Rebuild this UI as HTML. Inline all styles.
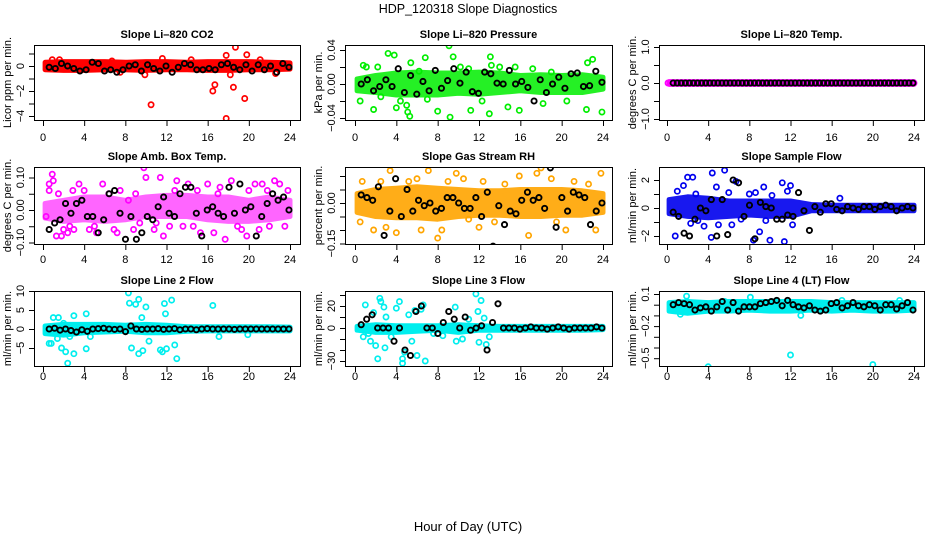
<!DOCTYPE html>
<html><head><meta charset="utf-8"><style>
html,body{margin:0;padding:0;background:#fff;}
svg{display:block;font-family:"Liberation Sans",Arial,sans-serif;}
</style></head><body>
<svg id="chart" width="936" height="540" viewBox="0 0 936 540" xmlns="http://www.w3.org/2000/svg">
<text x="468" y="13" text-anchor="middle" font-size="12.5">HDP_120318  Slope Diagnostics</text>
<text x="468" y="531" text-anchor="middle" font-size="13">Hour of Day (UTC)</text>
</svg>
<script>
const hourTicks = [0,4,8,12,16,20,24];
const bandHours = [0,2,4,6,8,10,12,14,16,18,20,22,24];

// Panel 1: CO2
const co2BandLo = [-0.3,-0.35,-0.35,-0.3,-0.3,-0.35,-0.3,-0.3,-0.35,-0.35,-0.3,-0.3,-0.25];
const co2BandHi = [0.3,0.35,0.35,0.35,0.3,0.35,0.35,0.3,0.35,0.35,0.35,0.3,0.25];
const co2Points = [[10.5,-3.1],[16.5,-2.0],[16.7,-1.5],[17.8,-4.2],[18.5,-1.7],[19.6,-2.6],[18.7,1.5],[19.8,0.9],[17.8,0.85],[9.9,-0.7],[22.6,-0.6],[1.6,0.5],[11.6,0.6],[0.9,0.5],[6.7,0.4],[14.4,0.5],[18.2,-0.7],[7.5,-0.5],[21.1,0.5]];
const co2Black = [-0.1,-0.2,0.2,0,-0.2,-0.4,-0.3,0.3,0.2,-0.4,-0.3,-0.5,-0.3,0,0.1,-0.4,0.1,-0.2,-0.4,0,-0.5,-0.1,0.2,0.1,-0.3,-0.3,-0.2,-0.3,0.1,0.2,-0.1,-0.3,0.1,-0.4,0.1,-0.3,0,-0.5,0.2,-0.1];

// Panel 2: Pressure
const presBandLo = [-0.008,-0.01,-0.013,-0.013,-0.013,-0.011,-0.012,-0.01,-0.008,-0.01,-0.01,-0.01,-0.006];
const presBandHi = [0.006,0.01,0.013,0.014,0.013,0.013,0.014,0.013,0.01,0.011,0.01,0.011,0.008];
const presPoints = [[0.5,-0.02],[0.8,0.022],[1.8,-0.03],[2.2,0.02],[3.2,0.036],[3.8,0.034],[4,-0.028],[5,-0.025],[5.1,-0.033],[5.3,-0.038],[5.4,0.025],[6.8,0.031],[7,-0.018],[8,-0.032],[9.1,0.045],[9.2,-0.039],[9.5,0.032],[10.2,0.02],[11.2,-0.031],[13,-0.035],[13.1,0.032],[13.2,0.022],[14.8,-0.027],[15.5,0.02],[15.9,-0.031],[17.2,0.018],[18.2,-0.023],[22.4,-0.03],[22.5,0.025],[23,0.029],[23.9,-0.033],[2.5,-0.015],[6.2,0.015],[11,0.018],[19,0.014],[20.5,-0.02],[1.1,0.02],[4.4,-0.02],[12.3,-0.02],[14,0.02]];
const presBlack = [0,0.005,-0.008,-0.003,0.005,-0.003,0.018,-0.01,0.01,-0.012,0.003,-0.008,0.016,-0.005,0.004,0.018,0.001,0.014,-0.009,-0.011,0.014,0.012,0.001,0.0,0.016,0,0.003,-0.004,-0.02,0.005,-0.01,0.0,0.008,-0.005,0.012,0.013,-0.003,-0.002,0.015,0.002];

// Panel 3: Li-820 temp
const tempBandLo = [-0.04,-0.04,-0.04,-0.04,-0.04,-0.04,-0.04,-0.04,-0.04,-0.04,-0.04,-0.04,-0.04];
const tempBandHi = [0.04,0.04,0.04,0.04,0.04,0.04,0.04,0.04,0.04,0.04,0.04,0.04,0.04];
const tempPoints = [[0.1,0],[0.3,0],[24,0]];
const tempBlack = [0,0,0,0,0,0,0,0,0,0,0,0,0,0,0,0,0,0,0,0,0,0,0,0,0,0,0,0,0,0,0,0,0,0,0,0,0,0,0,0,0,0,0,0,0,0,0,0,0,0,0,0,0,0,0,0,0,0,0,0];

// Panel 4: Amb box temp
const ambBandLo = [-0.025,-0.035,-0.03,-0.035,-0.03,-0.02,-0.02,-0.02,-0.03,-0.035,-0.035,-0.03,-0.02];
const ambBandHi = [0.02,0.03,0.04,0.04,0.03,0.04,0.045,0.045,0.04,0.04,0.03,0.04,0.03];
const ambPoints = [[0.6,0.08],[0.9,0.11],[1.0,0.09],[0.6,0.06],[1.3,-0.08],[1.8,-0.08],[2.0,-0.06],[2.4,-0.07],[2.6,-0.05],[3.5,0.08],[4.5,-0.06],[5.8,0.08],[6.9,-0.06],[7.2,-0.07],[8.8,-0.06],[9.4,-0.04],[9.8,0.13],[10.0,0.1],[11.4,0.1],[11.7,-0.08],[13.0,0.09],[14.1,0.08],[15.3,-0.07],[16.6,-0.07],[17.2,0.07],[17.7,-0.09],[18.3,0.09],[19.8,-0.08],[20.0,0.06],[20.6,0.08],[21.3,0.08],[22.0,-0.05],[22.5,0.09],[23.0,0.08],[23.5,-0.05],[0.3,-0.02],[2.9,0.06],[5.2,-0.07],[8.3,0.03],[12.3,-0.05],[15.0,0.06],[18.9,-0.05],[21.0,-0.06],[23.8,0.06],[3.0,-0.06],[6.4,0.05],[10.8,-0.06],[16.0,0.08],[1.5,0.05],[4.0,0.06],[7.5,0.06],[9.0,0.05],[12.8,0.06],[14.6,-0.05],[17.0,0.05],[19.3,-0.06],[21.8,0.06],[5.0,-0.05],[11.0,-0.04],[13.6,-0.05]];
const ambBlack = [-0.06,-0.04,-0.03,0.02,-0.01,0.02,0.03,-0.02,-0.02,-0.07,-0.03,0.05,0.06,-0.01,-0.09,-0.02,-0.09,-0.07,-0.02,-0.03,0.01,0.04,-0.01,-0.02,0.05,0.07,0.07,-0.01,-0.08,0,0.01,-0.01,-0.02,0.07,-0.01,0.08,0,0.01,-0.08,-0.02,0.02,0.05,0.03,0.04,0.0];

// Panel 5: Gas stream RH
const rhBandLo = [-0.035,-0.05,-0.055,-0.055,-0.06,-0.05,-0.045,-0.045,-0.05,-0.05,-0.045,-0.045,-0.035];
const rhBandHi = [0.035,0.05,0.055,0.06,0.055,0.05,0.045,0.045,0.05,0.05,0.05,0.045,0.035];
const rhPoints = [[0.5,-0.07],[0.7,0.08],[1.8,-0.1],[2.5,0.08],[3.4,0.12],[4,-0.11],[5.2,0.08],[6.4,-0.1],[7.1,0.12],[8.0,-0.13],[8.4,-0.1],[9,0.08],[9.8,0.11],[11,-0.06],[12.4,0.08],[13.5,-0.07],[15.9,0.1],[16.8,-0.12],[17.6,0.11],[18,0.13],[19,0.09],[20.4,-0.1],[21.2,0.08],[22.6,0.07],[23.3,-0.1],[23.8,0.11],[3.0,-0.09],[10.5,0.09],[14.5,0.07],[19.5,-0.07],[6.0,0.09],[12.0,-0.09]];
const rhBlack = [0.03,0.02,0.01,0.06,-0.12,-0.03,0.09,-0.05,0.05,-0.03,0.01,-0.01,0.0,-0.03,-0.02,0.02,0.02,0,-0.02,-0.02,0.02,-0.05,0.04,-0.16,-0.01,-0.08,-0.03,-0.04,0.01,0.04,0.01,0.02,-0.02,0.13,-0.09,0.02,-0.03,0.04,0.03,0.02,-0.08,-0.03,0.0];

// Panel 6: Sample flow
const sfBandLo = [-0.4,-0.6,-0.7,-0.6,-0.5,-0.6,-0.6,-0.2,-0.2,-0.2,-0.2,-0.2,-0.2];
const sfBandHi = [0.6,0.8,0.7,0.5,0.5,0.5,0.5,0.25,0.2,0.2,0.2,0.2,0.2];
const sfPoints = [[0.8,-2],[1.6,1.6],[2.0,2.2],[2.5,2.2],[2.3,-1.1],[2.8,1.0],[3.6,-1.3],[4.3,-2.1],[4.4,2.5],[4.8,1.5],[5.6,2.7],[6.0,1.1],[6.3,-1.2],[6.7,1.9],[8.0,1.0],[8.4,-2.3],[8.6,1.1],[9.0,-1.7],[9.4,1.5],[10.0,-2.3],[11.2,1.8],[11.4,-2.4],[12.0,1.6],[12.2,-1.2],[11.7,1.2],[3.0,-0.9],[5.0,-1.2],[7.2,-0.8],[10.2,0.9],[16.8,0.7],[1.0,1.2],[9.6,-0.9]];
const sfBlack = [-0.3,-0.6,-1.8,-2,-0.8,0,-0.2,0.6,-2,0.6,-1.9,2,1.8,-0.6,0.2,-2.2,0.4,0.1,0,-0.8,-0.8,-0.5,-0.6,1.1,-0.2,-1.6,0.1,-0.3,0.3,0.3,-0.1,-0.2,0.1,0,-0.1,0.1,0.1,-0.1,0.1,0.2,0.1,-0.2,0,0.1,0];

// Panel 7: Line 2 flow
const l2BandLo = [-1.2,-1.6,-1.0,-0.8,-0.6,-1.0,-1.0,-0.6,-0.5,-0.5,-0.5,-0.5,-0.5];
const l2BandHi = [0.8,1.2,1.2,1.2,1.0,1.2,1.0,0.6,0.6,0.6,0.6,0.6,0.5];
const l2Points = [[0.6,-3.8],[0.8,-3.8],[1.0,3.0],[1.4,-2.5],[1.8,-5],[2.2,-6],[2.4,-9],[2.6,-2],[3.0,-6.5],[3.0,3.5],[4.2,4],[4.2,-5.2],[4.6,-2],[8.3,9.5],[8.4,6.8],[8.6,-5],[9.0,6.5],[9.3,7.8],[9.3,-6.5],[9.7,-5.7],[10.0,5.8],[10.3,-3.2],[11.4,-5.5],[11.6,-6],[11.8,6.7],[11.9,4],[12.0,-5.2],[12.5,7.6],[12.8,-4.2],[13.0,-7.8],[16.5,6.2],[17.1,-2],[19.9,-1.5],[1.5,3],[9.6,3],[2.0,1.5]];
const l2Black = [0,0.2,-0.3,0,-0.4,-0.8,-0.2,-0.6,0,0.1,0.2,0,-0.1,0,-0.7,0.8,0,-0.1,0,0,0.1,-0.1,0,0.1,-0.2,0,0,-0.2,0,0.1,0,0,0,0,-0.1,0,0,0,0,0,0,0,0,0,0];

// Panel 8: Line 3 flow
const l3BandLo = [-2,-4,-4,-3,-2,-4,-2,-2,-2,-2,-2,-2,-1.5];
const l3BandHi = [1.5,3,2,2,2,3,2,1.5,1.5,1.5,1.5,1.5,1.5];
const l3Points = [[0.8,-8],[1.0,21],[1.5,-12],[1.8,14],[2.0,-16],[2.2,-28],[2.4,27],[2.5,24],[2.8,19],[2.9,-18],[3.0,10],[4.0,18],[4.3,24],[4.6,-28],[4.6,-32],[4.8,-22],[5.2,12],[5.5,-12],[5.8,16],[6.0,-25],[6.4,17],[6.6,21],[6.8,-30],[7.6,-5],[9.7,19],[9.8,-12],[10.4,-10],[11.0,8],[11.7,31],[11.9,15],[12.0,-13],[12.2,25],[12.5,9],[12.7,-15],[13.0,-8],[3.5,-8],[8.5,-7],[1.3,-5]];
const l3Black = [3,8,12,0,0,0,-12,0,-20,-25,15,20,0,0,-5,5,15,8,0,10,-2,0,2,-20,5,22,0,0,0,-1,0,1,0,0,-1,0,1,0,-1,0,0,0,0,1,0];

// Panel 9: Line 4 (LT) flow
const l4BandLo = [-0.06,-0.08,-0.06,-0.06,-0.05,-0.06,-0.06,-0.05,-0.06,-0.05,-0.06,-0.06,-0.05];
const l4BandHi = [0.02,0.03,0.02,0.03,0.03,0.03,0.03,0.03,0.02,0.02,0.02,0.02,0.02];
const l4Points = [[4.0,-0.58],[12.0,-0.47],[20.0,-0.56],[1.3,-0.09],[1.9,0.08],[5.6,0.03],[8.1,0.07],[13.0,-0.1],[17.0,0.04],[22.6,0.04],[3.0,-0.06],[10.5,0.03]];
const l4Black = [0.0,0.02,0.01,0,-0.05,-0.03,-0.02,-0.06,-0.02,0.03,-0.05,0.02,-0.06,-0.02,-0.02,-0.02,0.01,0.02,0.03,0.04,-0.01,0.04,0.0,-0.02,-0.03,-0.01,-0.05,-0.06,-0.05,0.01,0.02,-0.03,-0.01,0.02,-0.01,-0.02,0,-0.01,-0.05,0,0,-0.04,-0.01,0.02,-0.05];

const SVGNS = "http://www.w3.org/2000/svg";
const svg = document.getElementById('chart');
const colBox = [[34,300],[345,612],[659,924]];
const colHour = [[43,290],[355,603],[667,914]];
const rowBox = [[45,120],[167,244],[291,366]];
const rowLabelY = [137,259,376];

const panels = [
 {name:'co2', title:'Slope Li\u2013820 CO2', ylab:'Licor ppm per min.', row:0,col:0, y0:66, ppu:12.5, ticks:[-4,-3,-2,-1,0,1], labels:[-4,-2,0], dec:0, color:'#ff0000', op:1, lo:co2BandLo, hi:co2BandHi, pts:co2Points, blk:co2Black},
 {name:'pressure', title:'Slope Li\u2013820 Pressure', ylab:'kPa per min.', row:0,col:1, y0:84, ppu:850, ticks:[-0.04,-0.02,0,0.02,0.04], labels:[-0.04,0,0.04], dec:2, color:'#00ee00', op:0.85, lo:presBandLo, hi:presBandHi, pts:presPoints, blk:presBlack},
 {name:'temp', title:'Slope Li\u2013820 Temp.', ylab:'degrees C per min.', row:0,col:2, y0:83, ppu:36, ticks:[-1,-0.5,0,0.5,1], labels:[-1,0,1], dec:1, color:'#ff00ff', op:1, lo:tempBandLo, hi:tempBandHi, pts:tempPoints, blk:tempBlack},
 {name:'amb-temp', title:'Slope Amb. Box Temp.', ylab:'degrees C per min.', row:1,col:0, y0:210, ppu:325, ticks:[-0.1,-0.05,0,0.05,0.1], labels:[-0.1,0,0.1], dec:2, color:'#ff00ff', op:0.6, lo:ambBandLo, hi:ambBandHi, pts:ambPoints, blk:ambBlack},
 {name:'gas-rh', title:'Slope Gas Stream RH', ylab:'percent per min.', row:1,col:1, y0:203, ppu:270, ticks:[-0.15,-0.1,-0.05,0,0.05,0.1], labels:[-0.15,0], dec:2, color:'#ffa500', op:0.9, lo:rhBandLo, hi:rhBandHi, pts:rhPoints, blk:rhBlack},
 {name:'sample-flow', title:'Slope Sample Flow', ylab:'ml/min per min.', row:1,col:2, y0:208, ppu:14, ticks:[-2,-1,0,1,2], labels:[-2,0,2], dec:0, color:'#0000ee', op:0.9, lo:sfBandLo, hi:sfBandHi, pts:sfPoints, blk:sfBlack},
 {name:'line2-flow', title:'Slope Line 2 Flow', ylab:'ml/min per min.', row:2,col:0, y0:329, ppu:3.8, ticks:[-5,0,5,10], labels:[-5,0,5,10], dec:0, color:'#00eeee', op:1, lo:l2BandLo, hi:l2BandHi, pts:l2Points, blk:l2Black},
 {name:'line3-flow', title:'Slope Line 3 Flow', ylab:'ml/min per min.', row:2,col:1, y0:328, ppu:1.1, ticks:[-30,-20,-10,0,10,20,30], labels:[-30,0,20], dec:0, color:'#00eeee', op:1, lo:l3BandLo, hi:l3BandHi, pts:l3Points, blk:l3Black},
 {name:'line4-flow', title:'Slope Line 4 (LT) Flow', ylab:'ml/min per min.', row:2,col:2, y0:304.7, ppu:107, ticks:[-0.5,-0.4,-0.3,-0.2,-0.1,0,0.1], labels:[-0.5,-0.2,0.1], dec:1, color:'#00eeee', op:1, lo:l4BandLo, hi:l4BandHi, pts:l4Points, blk:l4Black}
];

function mk(tag, attrs, parent){
  const e = document.createElementNS(SVGNS, tag);
  for (const k in attrs) e.setAttribute(k, attrs[k]);
  (parent||svg).appendChild(e);
  return e;
}

panels.forEach(p => {
  const [bx0,bx1] = colBox[p.col];
  const [by0,by1] = rowBox[p.row];
  const [h0,h24] = colHour[p.col];
  const xs = h => h0 + h*(h24-h0)/24;
  const ys = v => p.y0 - v*p.ppu;
  const g = mk('g', {});
  
  
  const clipId = 'clip-' + p.name;
  const cp = mk('clipPath', {id: clipId}, g);
  mk('rect', {x:bx0, y:by0, width:bx1-bx0, height:by1-by0}, cp);
  const plot = mk('g', {'clip-path':'url(#'+clipId+')'}, g);

  let d = '';
  bandHours.forEach((h,i) => { d += (i?'L':'M') + xs(Math.max(h,0.2)).toFixed(1) + ',' + ys(p.hi[i]).toFixed(1); });
  for (let i = bandHours.length-1; i >= 0; i--) d += 'L' + xs(Math.max(bandHours[i],0.2)).toFixed(1) + ',' + ys(p.lo[i]).toFixed(1);
  const band = mk('path', {d: d+'Z', fill:p.color, stroke:p.color, 'stroke-width':5, 'stroke-linejoin':'round', opacity:p.op}, plot);
  
  

  p.pts.forEach(pt => {
    const c = mk('circle', {cx: xs(pt[0]), cy: ys(pt[1]), r:2.6, fill:'none', stroke:p.color, 'stroke-width':1.7}, plot);
    
    
  });
  const n = p.blk.length;
  p.blk.forEach((v,i) => {
    const h = 0.6 + i*(23.3/(n-1));
    const c = mk('circle', {cx: xs(h), cy: ys(v), r:2.6, fill:'none', stroke:'#000', 'stroke-width':1.9}, plot);
    
    
  });

  const box = mk('rect', {x:bx0+0.5, y:by0+0.5, width:bx1-bx0, height:by1-by0, fill:'none', stroke:'#000', 'stroke-width':1}, g);
  
  

  const t = mk('text', {x:(bx0+bx1)/2, y:by0-7, 'text-anchor':'middle', 'font-size':11, 'font-weight':'bold'}, g);
  t.textContent = p.title;
  
  

  mk('line', {x1:xs(0), x2:xs(24), y1:by1+0.5, y2:by1+0.5, stroke:'#000'}, g);
  hourTicks.forEach(h => {
    mk('line', {x1:xs(h)+0.5, x2:xs(h)+0.5, y1:by1, y2:by1+6, stroke:'#000'}, g);
    const tl = mk('text', {x:xs(h), y:rowLabelY[p.row]+4, 'text-anchor':'middle', 'font-size':11}, g);
    tl.textContent = h;
    
    
  });

  p.ticks.forEach(v => {
    mk('line', {x1:bx0-5, x2:bx0, y1:ys(v)+0.5, y2:ys(v)+0.5, stroke:'#000'}, g);
  });
  p.labels.forEach(v => {
    const y = ys(v);
    const lab = mk('text', {x:0, y:0, 'text-anchor':'middle', 'font-size':11, transform:'translate('+(bx0-10)+','+y+') rotate(-90)'}, g);
    lab.textContent = (v<0?'\u2212':'') + Math.abs(v).toFixed(p.dec);
    
    
  });
  const yl = mk('text', {x:0, y:0, 'text-anchor':'middle', 'font-size':11, transform:'translate('+(bx0-23)+','+((by0+by1)/2)+') rotate(-90)'}, g);
  yl.textContent = p.ylab;
  
  
});
</script>
</body></html>
